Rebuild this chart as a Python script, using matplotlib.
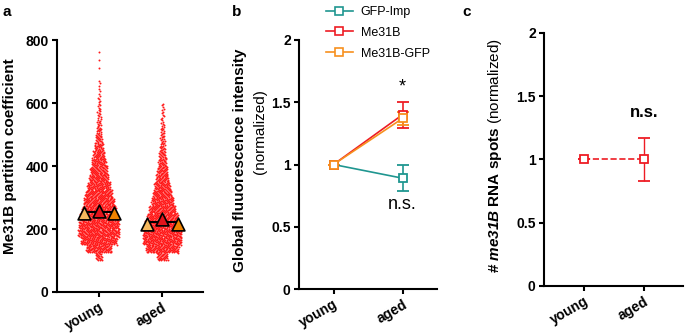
import matplotlib
matplotlib.use("Agg")
import matplotlib.pyplot as plt
from matplotlib.lines import Line2D
import numpy as np

plt.rcParams['font.family'] = ['Liberation Sans', 'DejaVu Sans']
plt.rcParams['mathtext.fontset'] = 'custom'
plt.rcParams['mathtext.rm'] = 'Liberation Sans'
plt.rcParams['mathtext.bf'] = 'Liberation Sans:bold'
plt.rcParams['mathtext.it'] = 'Liberation Sans:italic'
plt.rcParams['mathtext.bfit'] = 'Liberation Sans:bold:italic'

# ---- data ----
groups = ['young', 'aged']

# panel a: swarm read as counts per 25-unit bin, starting at 100
bin_start = 100
bin_size = 25
young_counts = [20, 90, 130, 150, 146, 138, 124, 110, 96, 82, 68, 60, 50, 38, 28, 20,
                14, 10, 8, 6, 5, 3, 3, 0, 1, 1, 1]
aged_counts = [36, 118, 140, 140, 128, 112, 94, 78, 66, 54, 42, 34, 26, 22, 14, 12,
               10, 7, 5, 5]
# replicate means (triangles)
young_reps = [252, 256, 252]
aged_reps = [216, 232, 216]
rep_colors = ['#f6b85e', '#e3141c', '#ee8200']

# panel b
b_series = ['GFP-Imp', 'Me31B', 'Me31B-GFP']
b_colors = ['#1f9690', '#ee1c24', '#f7901e']
b_means = [[1.0, 0.89], [1.0, 1.40], [1.0, 1.37]]
b_err = [[0, 0.105], [0, 0.105], [0, 0.05]]

# panel c
c_means = [1.0, 1.0]
c_err = [0, 0.17]

fig = plt.figure(figsize=(6.85, 3.35), dpi=100)

def style_axes(ax):
    for s in ['top', 'right']:
        ax.spines[s].set_visible(False)
    for s in ['left', 'bottom']:
        ax.spines[s].set_linewidth(1.5)
    ax.tick_params(width=1.5, length=3.5, labelsize=10, pad=2.5)
    ax.set_xticks(range(len(groups)))
    ax.set_xticklabels(groups, rotation=30, ha='right', va='top',
                       rotation_mode='anchor', fontweight='bold')
    for t in ax.get_yticklabels():
        t.set_fontweight('bold')

# ---- panel a ----
axa = fig.add_axes([0.0832, 0.1284, 0.2131, 0.752])
for gi, counts in enumerate([young_counts, aged_counts]):
    xs, ys = [], []
    for bi, n in enumerate(counts):
        lo = bin_start + bi * bin_size
        hw = n / 7.4 / 64.0 + 0.01
        for i in range(n):
            ys.append(lo + bin_size * (i + 0.5) / n)
            f = (i * 0.6180339887 + 0.37) % 1.0
            xs.append(gi + hw * (2 * f - 1))
    axa.scatter(xs, ys, s=2.0, color='#ff1a1a', linewidths=0, zorder=2)
for gi, reps in enumerate([young_reps, aged_reps]):
    offs = [-0.24, 0.0, 0.24]
    axa.plot([gi - 0.24, gi + 0.24], [np.mean(reps)] * 2, color='black', lw=1.5, zorder=3)
    for o, v, c in zip(offs, reps, rep_colors):
        axa.scatter(gi + o, v, marker='^', s=85, color=c, edgecolors='black',
                    linewidths=1.2, zorder=4)
axa.set_xlim(-0.66, 1.64)
axa.set_ylim(0, 800)
axa.set_yticks([0, 200, 400, 600, 800])
style_axes(axa)
fig.text(0.014, 0.534, 'Me31B partition coefficient', rotation=90, ha='center',
         va='center', fontsize=11, fontweight='bold')

# ---- panel b ----
axb = fig.add_axes([0.4365, 0.1373, 0.2015, 0.7433])
x = np.arange(len(groups))
handles = []
for name, col, m, e in zip(b_series, b_colors, b_means, b_err):
    axb.errorbar(x, m, yerr=e, color=col, lw=1.2, marker='s', ms=6,
                 mfc='white', mec=col, mew=1.3, capsize=4, capthick=1.2,
                 elinewidth=1.2, zorder=3)
    handles.append(Line2D([], [], color=col, lw=1.2, marker='s', ms=5.5,
                          mfc='white', mec=col, mew=1.2, label=name))
axb.set_xlim(-0.5, 1.5)
axb.set_ylim(0, 2)
axb.set_yticks([0, 0.5, 1, 1.5, 2])
axb.set_yticklabels(['0', '0.5', '1', '1.5', '2'])
style_axes(axb)
axb.text(1, 1.586, '*', ha='center', va='baseline', fontsize=13)
axb.text(1, 0.64, 'n.s.', ha='center', va='baseline', fontsize=13)
fig.text(0.350, 0.522, 'Global fluuorescence intensity', rotation=90, ha='center',
         va='center', fontsize=11, fontweight='bold')
fig.text(0.380, 0.606, '(normalized)', rotation=90, ha='center', va='center', fontsize=11)
fig.legend(handles=handles, loc='upper left', bbox_to_anchor=(0.468, 0.997),
           frameon=False, fontsize=9, handlelength=2.2, handletextpad=0.6,
           labelspacing=0.7, borderaxespad=0)

# ---- panel c ----
axc = fig.add_axes([0.7942, 0.1463, 0.2029, 0.7552])
axc.errorbar(x, c_means, yerr=c_err, color='#ee1c24', lw=1.2, ls='--', marker='s',
             ms=6, mfc='white', mec='#ee1c24', mew=1.3, capsize=4, capthick=1.0,
             elinewidth=1.0, zorder=3)
axc.set_xlim(-0.67, 1.65)
axc.set_ylim(0, 2)
axc.set_yticks([0, 0.5, 1, 1.5, 2])
axc.set_yticklabels(['0', '0.5', '1', '1.5', '2'])
style_axes(axc)
axc.text(1, 1.336, 'n.s.', ha='center', va='baseline', fontsize=12, fontweight='bold')
fig.text(0.7226, 0.537, r'$\mathbf{\#}\ \mathbfit{me31B}\ \mathbf{RNA\ spots}\ \mathrm{(normalized)}$',
         rotation=90, ha='center', va='center', fontsize=11)

# panel letters
fig.text(0.004, 0.965, 'a', fontsize=11, fontweight='bold', va='center')
fig.text(0.339, 0.965, 'b', fontsize=11, fontweight='bold', va='center')
fig.text(0.675, 0.965, 'c', fontsize=11, fontweight='bold', va='center')

fig.savefig('out.png', dpi=100)
